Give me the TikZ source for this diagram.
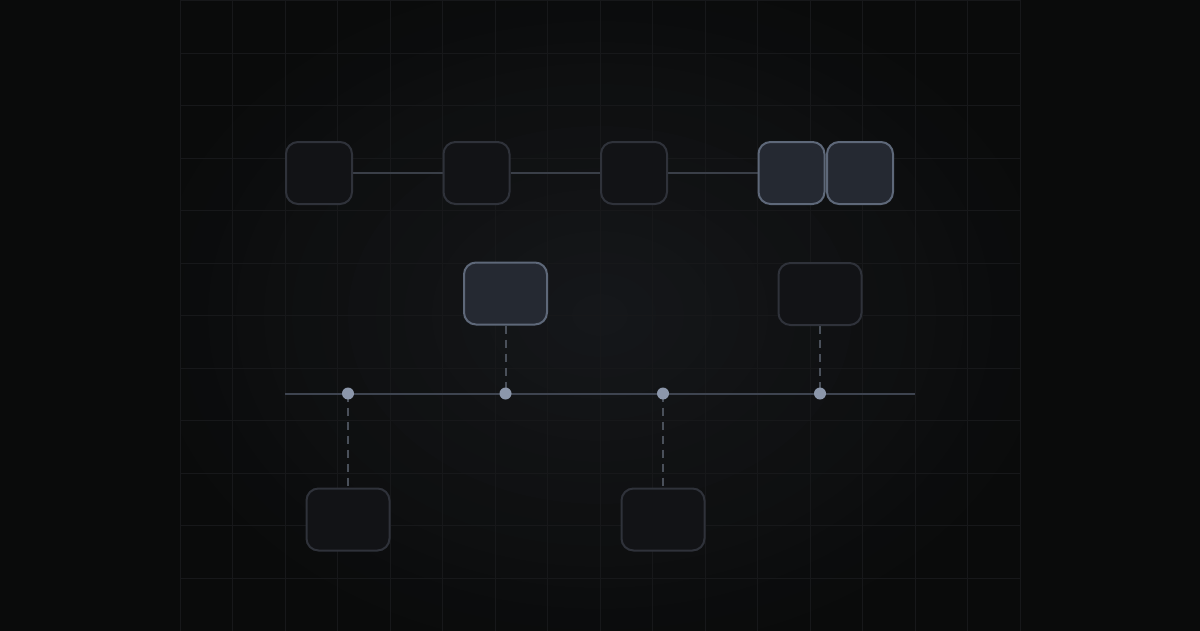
\documentclass[tikz,border=0pt]{standalone}
\usetikzlibrary{backgrounds}
\definecolor{bgc}{HTML}{0A0B0B}
\definecolor{glowc}{HTML}{15171A}
\definecolor{gridc}{HTML}{17181A}
\definecolor{dimfill}{HTML}{121316}
\definecolor{dimline}{HTML}{2F323A}
\definecolor{hifill}{HTML}{252932}
\definecolor{hiline}{HTML}{5E6879}
\definecolor{connc}{HTML}{3A3F48}
\definecolor{tlc}{HTML}{3E4450}
\definecolor{dashc}{HTML}{4A505A}
\definecolor{dotc}{HTML}{8C97AB}
\pgfdeclarelayer{bgl}
\pgfdeclarelayer{lines}
\pgfsetlayers{bgl,lines,main}
\tikzset{
  card/.style={draw=dimline, fill=dimfill, line width=2pt, rounded corners=12pt, inner sep=0pt},
  hicard/.style={draw=hiline, fill=hifill, line width=2pt, rounded corners=12pt, inner sep=0pt},
  small/.style={minimum width=66pt, minimum height=62pt},
  wide/.style={minimum width=83pt, minimum height=62pt},
  conn/.style={draw=connc, line width=2pt},
  tline/.style={draw=tlc, line width=2pt},
  dashlink/.style={draw=dashc, line width=2pt, dash pattern=on 8pt off 6pt},
  tdot/.style={circle, fill=dotc, minimum size=12pt, inner sep=0pt},
  gridline/.style={draw=gridc, line width=1pt}
}
\begin{document}
\begin{tikzpicture}[x=1pt,y=-1pt]
\useasboundingbox (0,0) rectangle (1200,630);
\begin{pgfonlayer}{bgl}
  \fill[bgc] (-10,-10) rectangle (1210,640);
  \begin{scope}
    \clip (180,-10) rectangle (1020,640);
    \foreach \k in {16,15,...,1} {
      \pgfmathtruncatemacro\pc{100*(17-\k)/16}
      \fill[glowc!\pc!bgc] (600,315) ellipse ({28*\k} and {21*\k});
    }
  \end{scope}
  \foreach \i in {0,...,16} {
    \draw[gridline] ({180+52.5*\i},-5) -- ({180+52.5*\i},635);
  }
  \foreach \j in {0,...,11} {
    \draw[gridline] (180,{0.5+52.5*\j}) -- (1020,{0.5+52.5*\j});
  }
\end{pgfonlayer}

% top row
\node[card, small] (t1) at (319,173) {};
\node[card, small] (t2) at (476.5,173) {};
\node[card, small] (t3) at (634,173) {};
\node[hicard, small] (t4) at (791.5,173) {};
\node[hicard, small] (t5) at (860,173) {};

% middle row
\node[hicard, wide] (m1) at (505.5,293.5) {};
\node[card, wide] (m2) at (820,294) {};

% bottom row
\node[card, wide] (b1) at (348,519.5) {};
\node[card, wide] (b2) at (663,519.5) {};

% timeline
\coordinate (tl) at (285,393.5);
\coordinate (tr) at (915,393.5);
\node[tdot] (d1) at (348,393.5) {};
\node[tdot] (d2) at (505.5,393.5) {};
\node[tdot] (d3) at (663,393.5) {};
\node[tdot] (d4) at (820,393.5) {};

\begin{pgfonlayer}{lines}
  \draw[conn] (t1.east) -- (t2.west);
  \draw[conn] (t2.east) -- (t3.west);
  \draw[conn] (t3.east) -- (t4.west);
  \draw[tline] (tl) -- (tr);
  \draw[dashlink] (m1.south) -- (d2.center);
  \draw[dashlink] (m2.south) -- (d4.center);
  \draw[dashlink] (d1.center) -- (b1.north);
  \draw[dashlink] (d3.center) -- (b2.north);
\end{pgfonlayer}
\end{tikzpicture}
\end{document}
